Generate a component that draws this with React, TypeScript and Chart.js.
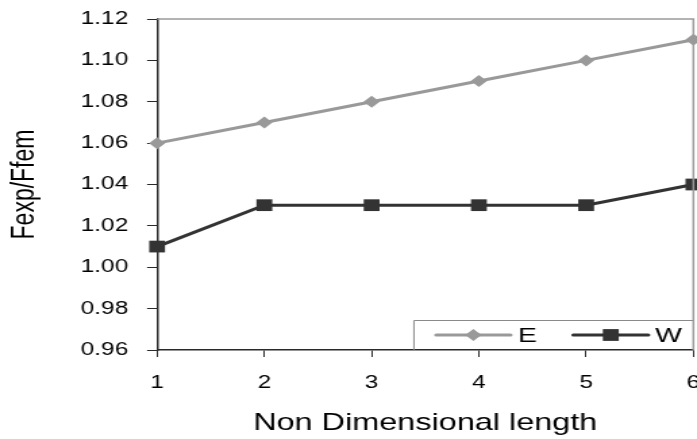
import { useEffect, useRef } from 'react';
import { Chart, registerables } from 'chart.js';

Chart.register(...registerables);

// Data
const categories = ['1', '2', '3', '4', '5', '6'];
const seriesE = [1.06, 1.07, 1.08, 1.09, 1.1, 1.11];
const seriesW = [1.01, 1.03, 1.03, 1.03, 1.03, 1.04];
const yTickValues = [0.96, 0.98, 1.0, 1.02, 1.04, 1.06, 1.08, 1.1, 1.12];
const seriesLabels = ['E', 'W'];
const xTitle = 'Non Dimensional length';
const yTitle = 'Fexp/Ffem';

// Page and drawing surface: the canvas is drawn narrow and widened by CSS
const PAGE_W = 697;
const PAGE_H = 439;
const STRETCH = 1.35;
const CANVAS_W = Math.round(PAGE_W / STRETCH);

const FONT = "'Liberation Sans', Arial, Helvetica, sans-serif";
const AXIS = '#2a2a2a';
const FRAME = '#9a9a9a';
const COLOR_E = '#999999';
const COLOR_W = '#333333';

const PLOT_LEFT = 157 / STRETCH;
const PLOT_RIGHT = 693 / STRETCH;
const PLOT_TOP = 19;
const PLOT_BOTTOM = 350;

type Marker = 'diamond' | 'square';

function drawMarker(ctx: CanvasRenderingContext2D, kind: Marker, x: number, y: number, color: string) {
  ctx.save();
  ctx.fillStyle = color;
  ctx.beginPath();
  if (kind === 'diamond') {
    const r = 6;
    ctx.moveTo(x, y - r);
    ctx.lineTo(x + r, y);
    ctx.lineTo(x, y + r);
    ctx.lineTo(x - r, y);
    ctx.closePath();
  } else {
    const h = 5.9;
    ctx.rect(x - h, y - h, 2 * h, 2 * h);
  }
  ctx.fill();
  ctx.restore();
}

// Legend box in the lower right corner of the plot, then the grey frame on top/right
const framePlugin = {
  id: 'plotFrame',
  afterDatasetsDraw(chart: Chart) {
    const { ctx, chartArea } = chart;
    const { top, right, bottom, left } = chartArea;

    // legend
    const boxW = 207.4;
    const boxH = 30;
    const bx = right - boxW;
    const by = bottom - boxH;
    const cy = by + boxH / 2;
    ctx.save();
    ctx.fillStyle = '#ffffff';
    ctx.fillRect(bx, by, boxW, boxH - 1);
    ctx.strokeStyle = '#8a8a8a';
    ctx.lineWidth = 1;
    ctx.beginPath();
    ctx.moveTo(bx + 0.5, bottom);
    ctx.lineTo(bx + 0.5, by + 0.5);
    ctx.lineTo(right, by + 0.5);
    ctx.stroke();

    const entries: { label: string; color: string; marker: Marker; x0: number; x1: number; tx: number }[] = [
      { label: seriesLabels[0], color: COLOR_E, marker: 'diamond', x0: 17, x1: 72, tx: 77.5 },
      { label: seriesLabels[1], color: COLOR_W, marker: 'square', x0: 118.5, x1: 174, tx: 179 },
    ];
    ctx.font = `21px ${FONT}`;
    ctx.textBaseline = 'middle';
    ctx.textAlign = 'left';
    for (const e of entries) {
      ctx.strokeStyle = e.color;
      ctx.lineWidth = 3;
      ctx.lineCap = 'round';
      ctx.beginPath();
      ctx.moveTo(bx + e.x0, cy);
      ctx.lineTo(bx + e.x1, cy);
      ctx.stroke();
      drawMarker(ctx, e.marker, bx + (e.x0 + e.x1) / 2, cy, e.color);
      ctx.fillStyle = '#000000';
      ctx.fillText(e.label, bx + e.tx, cy + 1);
    }

    // frame: top and right edges
    ctx.strokeStyle = FRAME;
    ctx.lineWidth = 1.5;
    ctx.lineCap = 'butt';
    ctx.beginPath();
    ctx.moveTo(left, top);
    ctx.lineTo(right, top);
    ctx.lineTo(right, bottom);
    ctx.stroke();
    ctx.restore();
  },
};

export default function App() {
  const canvasRef = useRef<HTMLCanvasElement | null>(null);

  useEffect(() => {
    document.body.style.margin = '0';
    const canvas = canvasRef.current;
    if (!canvas) return;

    const chart = new Chart(canvas, {
      type: 'line',
      data: {
        labels: categories,
        datasets: [
          {
            label: seriesLabels[0],
            data: seriesE,
            borderColor: COLOR_E,
            backgroundColor: COLOR_E,
            borderWidth: 3,
            pointStyle: 'rectRot',
            pointRadius: 6,
            pointBorderWidth: 0,
            pointBackgroundColor: COLOR_E,
            tension: 0,
            clip: false as any,
          },
          {
            label: seriesLabels[1],
            data: seriesW,
            borderColor: COLOR_W,
            backgroundColor: COLOR_W,
            borderWidth: 3,
            pointStyle: 'rect',
            pointRadius: 8.3,
            pointBorderWidth: 0,
            pointBackgroundColor: COLOR_W,
            tension: 0,
            clip: false as any,
          },
        ],
      },
      options: {
        responsive: false,
        devicePixelRatio: 1,
        animation: false,
        events: [],
        layout: {
          autoPadding: false,
          padding: { top: PLOT_TOP, right: CANVAS_W - PLOT_RIGHT, left: 0, bottom: 0 },
        },
        plugins: {
          legend: { display: false },
          tooltip: { enabled: false },
        },
        scales: {
          x: {
            type: 'category',
            offset: false,
            grid: {
              display: true,
              drawOnChartArea: false,
              drawTicks: true,
              tickLength: 7,
              tickColor: AXIS,
              tickWidth: 1,
            },
            border: { display: true, color: AXIS, width: 1.5 },
            ticks: {
              color: '#000000',
              font: { family: FONT, size: 18 },
              padding: 15,
              maxRotation: 0,
              autoSkip: false,
            },
            title: {
              display: true,
              text: xTitle,
              color: '#000000',
              font: { family: FONT, size: 24 },
              padding: { top: 0, bottom: 1 },
            },
            afterFit: (s: any) => {
              s.height = PAGE_H - PLOT_BOTTOM;
              s.paddingLeft = 0;
              s.paddingRight = 0;
            },
          },
          y: {
            type: 'linear',
            min: yTickValues[0],
            max: yTickValues[yTickValues.length - 1],
            afterBuildTicks: (s: any) => {
              s.ticks = yTickValues.map((v) => ({ value: v }));
            },
            grid: {
              display: true,
              drawOnChartArea: false,
              drawTicks: true,
              tickLength: 10 / STRETCH,
              tickColor: AXIS,
              tickWidth: 1,
            },
            border: { display: true, color: AXIS, width: 1.5 },
            ticks: {
              color: '#000000',
              font: { family: FONT, size: 18 },
              padding: 14,
              callback: (v: any) => Number(v).toFixed(2),
            },
            title: {
              display: true,
              text: yTitle,
              color: '#000000',
              font: { family: FONT, size: 23 },
              padding: { top: 5, bottom: 0 },
            },
            afterFit: (s: any) => {
              s.width = PLOT_LEFT;
              s.paddingTop = 0;
              s.paddingBottom = 0;
            },
          },
        },
      },
      plugins: [framePlugin],
    });

    return () => {
      chart.destroy();
    };
  }, []);

  return (
    <canvas
      ref={canvasRef}
      width={CANVAS_W}
      height={PAGE_H}
      style={{ display: 'block', width: `${PAGE_W}px`, height: `${PAGE_H}px` }}
    />
  );
}
